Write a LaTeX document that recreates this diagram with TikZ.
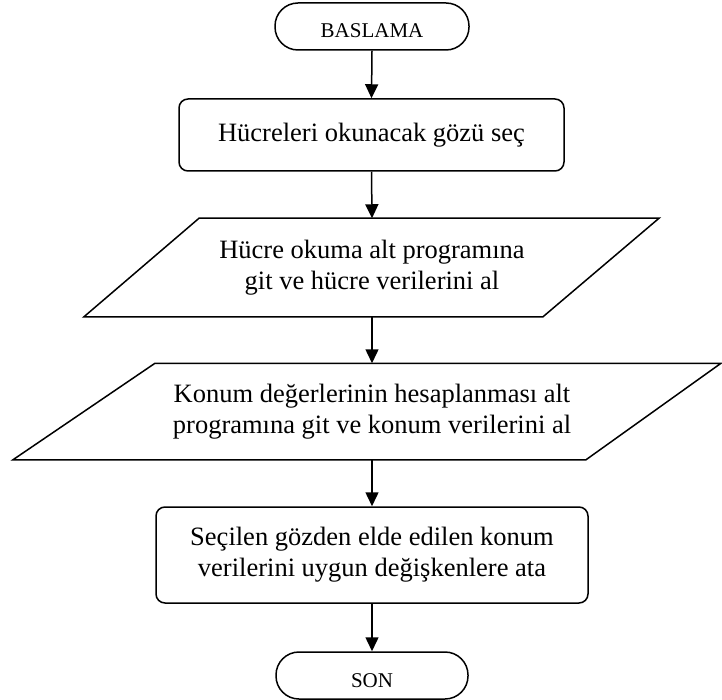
\documentclass[tikz,border=0pt]{standalone}
\usepackage{fontspec}
\setmainfont{Liberation Serif}
\usetikzlibrary{arrows.meta,calc}
\begin{document}
\begin{tikzpicture}[x=1pt,y=-1pt,
  line width=1.5pt,
  term/.style={draw,rounded corners=23pt,minimum width=194pt,minimum height=47pt,inner sep=0pt,
    font=\fontsize{21}{24}\selectfont,text height=23pt,text depth=0pt},
  proc/.style={draw,rounded corners=9pt,inner sep=0pt,align=center,
    font=\fontsize{26.5}{31}\selectfont},
  io/.style={inner sep=0pt,outer sep=0.75pt,align=center,
    font=\fontsize{26.5}{31}\selectfont},
  flow/.style={-{Triangle[length=14pt,width=13pt]}}]
\useasboundingbox (0,0) rectangle (722,700);

\node[term] (start) at (372,26.5) {BASLAMA};
\node[proc,minimum width=385pt,minimum height=72pt] (p1) at (371.5,135) {Hücreleri okunacak gözü seç};
\node[io,minimum width=340pt,minimum height=97pt] (io1) at (372,267.5) {Hücre okuma alt programına\\git ve hücre verilerini al};
\node[io,minimum width=430pt,minimum height=95pt] (io2) at (372,411.5) {Konum değerlerinin hesaplanması alt\\programına git ve konum verilerini al};
\node[proc,minimum width=432pt,minimum height=96pt] (p2) at (372,555) {Seçilen gözden elde edilen konum\\verilerini uygun değişkenlere ata};
\node[term,minimum width=192pt] (stop) at (372,675.5) {SON};

\draw ($(io1.north)+(-173,0)$) -- ($(io1.north)+(287,0)$) -- ($(io1.south)+(171,0)$) -- ($(io1.south)+(-288,0)$) -- cycle;
\draw ($(io2.north)+(-217,0)$) -- ($(io2.north)+(349,0)$) -- ($(io2.south)+(214,0)$) -- ($(io2.south)+(-359,0)$) -- cycle;

\draw[flow] (start.south) -- (p1.north);
\draw[flow] (p1.south) -- (io1.north);
\draw[flow] (io1.south) -- (io2.north);
\draw[flow] (io2.south) -- (p2.north);
\draw[flow] (p2.south) -- (stop.north);
\end{tikzpicture}
\end{document}
